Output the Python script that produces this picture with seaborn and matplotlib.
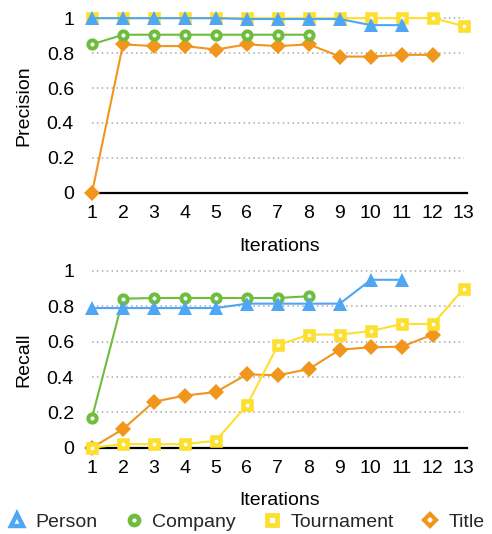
import matplotlib
matplotlib.use("Agg")
import matplotlib.pyplot as plt
import seaborn as sns
import pandas as pd
from matplotlib.lines import Line2D

sns.set_theme(style="white")
plt.rcParams['font.family'] = ['Liberation Sans', 'DejaVu Sans']

series_names = ["Person", "Company", "Tournament", "Title"]

prec_person = [1, 1, 1, 1, 1, 0.995, 0.995, 0.995, 0.995, 0.96, 0.96]
prec_company = [0.85, 0.905, 0.905, 0.905, 0.905, 0.905, 0.905, 0.905]
prec_tournament = [1, 1, 1, 1, 1, 1, 1, 1, 1, 1, 1, 1, 0.955]
prec_title = [0, 0.85, 0.84, 0.84, 0.82, 0.85, 0.84, 0.85, 0.78, 0.78, 0.79, 0.79]

rec_person = [0.79, 0.79, 0.79, 0.79, 0.79, 0.815, 0.815, 0.815, 0.815, 0.95, 0.95]
rec_company = [0.17, 0.843, 0.847, 0.847, 0.847, 0.847, 0.847, 0.857]
rec_tournament = [0, 0.02, 0.02, 0.02, 0.04, 0.24, 0.58, 0.64, 0.64, 0.66, 0.70, 0.70, 0.90]
rec_title = [0, 0.105, 0.26, 0.295, 0.315, 0.415, 0.41, 0.445, 0.555, 0.568, 0.572, 0.64]

xtick_labels = [str(i) for i in range(1, 14)]
ytick_labels = ["0", "0.2", "0.4", "0.6", "0.8", "1"]

colors = {"Person": "#4EA6F4", "Company": "#6EBD3C", "Tournament": "#FDDF2E", "Title": "#F0961D"}
styles = {
    "Person": dict(marker="^", markersize=9.5, markerfacecolor=colors["Person"], markeredgewidth=0, zorder=5),
    "Company": dict(marker="o", markersize=5.9, markerfacecolor="white", markeredgewidth=2.9, zorder=3),
    "Tournament": dict(marker="s", markersize=5.9, markerfacecolor="white", markeredgewidth=3.3, zorder=4),
    "Title": dict(marker="D", markersize=8.2, markerfacecolor=colors["Title"], markeredgewidth=0, zorder=2),
}
legend_marker = {
    "Person": dict(markersize=8.5, markeredgewidth=3.2),
    "Company": dict(markersize=6.5, markeredgewidth=3.4),
    "Tournament": dict(markersize=6.5, markeredgewidth=3.4),
    "Title": dict(markersize=6.0, markeredgewidth=3.0),
}

fig = plt.figure(figsize=(4.92, 5.34), dpi=100)
ax1 = fig.add_axes([0.187, 0.639, 0.762, 0.327])
ax2 = fig.add_axes([0.187, 0.1616, 0.762, 0.331])

def draw(ax, data, ylabel):
    for name, vals in zip(series_names, data):
        df = pd.DataFrame({"it": list(range(1, len(vals) + 1)), "v": vals})
        st = styles[name]
        sns.lineplot(data=df, x="it", y="v", ax=ax, color=colors[name],
                     markeredgecolor=colors[name], linewidth=1.5, clip_on=False, **st)
    ax.set_xlim(1, 13.1)
    ax.set_ylim(0, 1)
    ax.set_xticks(range(1, 14))
    ax.set_xticklabels(xtick_labels)
    ax.set_yticks([0, 0.2, 0.4, 0.6, 0.8, 1.0])
    ax.set_yticklabels(ytick_labels)
    for y in [0.2, 0.4, 0.6, 0.8, 1.0]:
        ax.plot([1, 13], [y, y], color="#a8a8a8", linewidth=1.1,
                linestyle=(0, (1, 2.2)), zorder=0, clip_on=False)
    for s in ["left", "right", "top"]:
        ax.spines[s].set_visible(False)
    ax.spines["bottom"].set_color("black")
    ax.spines["bottom"].set_linewidth(1.6)
    ax.spines["bottom"].set_zorder(1)
    ax.tick_params(axis="both", length=0, labelsize=14, colors="black")
    ax.tick_params(axis="x", pad=9)
    ax.tick_params(axis="y", pad=13)
    ax.set_xlabel("Iterations", fontsize=14, color="black", labelpad=11)
    ax.set_ylabel(ylabel, fontsize=14, color="black")
    ax.set_facecolor("white")

draw(ax1, [prec_person, prec_company, prec_tournament, prec_title], "Precision")
draw(ax2, [rec_person, rec_company, rec_tournament, rec_title], "Recall")
ax1.yaxis.set_label_coords(-0.16, 0.5)
ax2.yaxis.set_label_coords(-0.16, 0.5)

handles = []
for name in series_names:
    st = styles[name]
    handles.append(Line2D([0], [0], linestyle="none", marker=st["marker"],
                          markerfacecolor="white", markeredgecolor=colors[name],
                          label=name, **legend_marker[name]))
fig.legend(handles=handles, loc="center", bbox_to_anchor=(0.5, 0.022), ncol=4,
           frameon=False, fontsize=14, handlelength=1.0, handletextpad=0.45,
           columnspacing=1.35, borderaxespad=0)

fig.savefig("out.png", dpi=100, facecolor="white")
